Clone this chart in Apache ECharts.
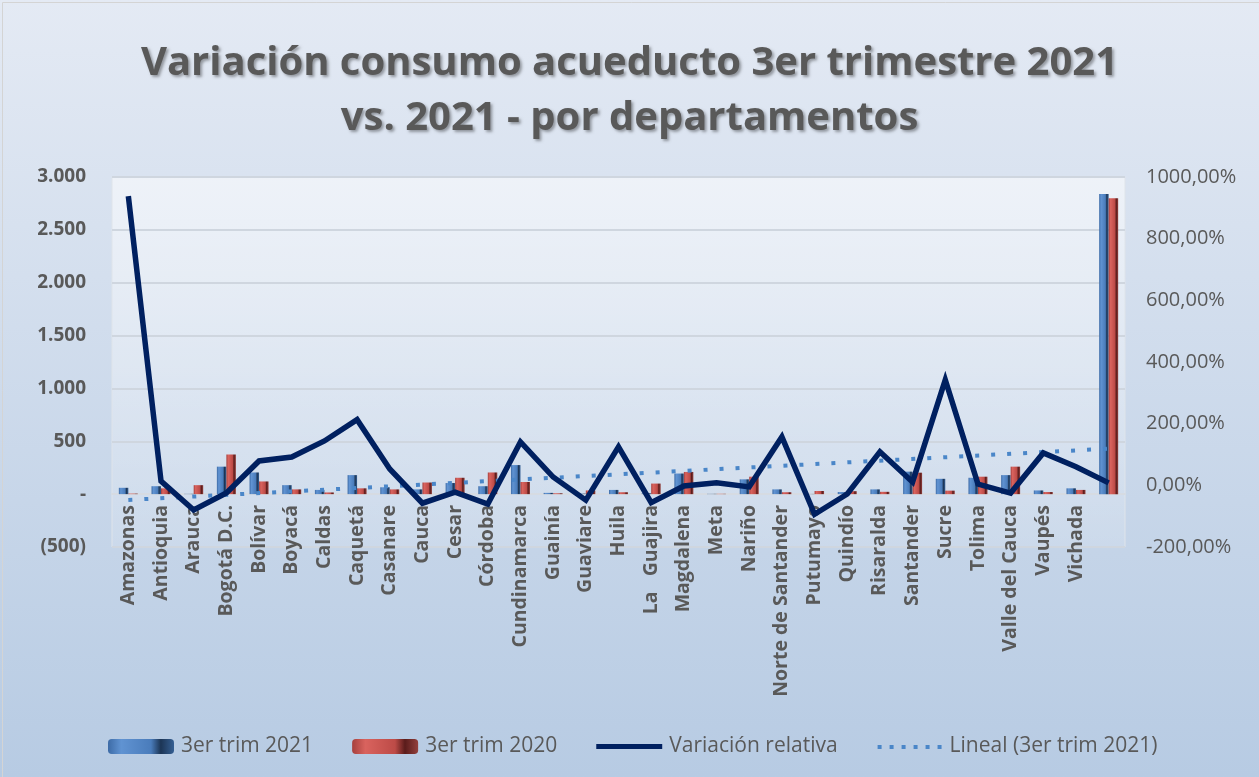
<!DOCTYPE html>
<html>
<head>
<meta charset="utf-8">
<script src="https://cdn.jsdelivr.net/npm/echarts@6/dist/echarts.min.js"></script>
<style>
  html, body { margin: 0; padding: 0; }
  #chart { width: 1259px; height: 777px; }
</style>
</head>
<body>
<div id="chart"></div>
<script>
// categorias (la ultima es el total, su etiqueta no se ve en el original)
const categories = ['Amazonas', 'Antioquia', 'Arauca', 'Bogotá D.C.', 'Bolívar', 'Boyacá', 'Caldas', 'Caquetá',
  'Casanare', 'Cauca', 'Cesar', 'Córdoba', 'Cundinamarca', 'Guainía', 'Guaviare', 'Huila', 'La   Guajira',
  'Magdalena', 'Meta', 'Nariño', 'Norte de Santander', 'Putumayo', 'Quindío', 'Risaralda', 'Santander',
  'Sucre', 'Tolima', 'Valle del Cauca', 'Vaupés', 'Vichada', 'Total'];
const trim2021 = [60, 75, 3, 260, 205, 85, 40, 180, 65, 45, 105, 75, 275, 12, 5, 40, 8, 195, 3, 140, 45, 2, 20, 45, 213, 145, 155, 180, 35, 55, 2840];
const trim2020 = [5, 55, 85, 375, 120, 45, 16, 55, 45, 110, 155, 205, 115, 8, 35, 18, 100, 210, 3, 165, 18, 30, 28, 22, 203, 33, 165, 260, 20, 40, 2800];
const variacion = [938, 14, -80, -25, 79, 92, 144, 213, 53, -58, -22, -61, 141, 27, -48, 125, -56, -2, 8, -5, 157, -94, -28, 109, 11, 342, 4, -25, 105, 60, 8];
const tendenciaInicio = -55;
const tendenciaFin = 430;
const leftTicks = [-500, 0, 500, 1000, 1500, 2000, 2500, 3000];
const leftTickLabels = ['(500)', '-', '500', '1.000', '1.500', '2.000', '2.500', '3.000'];
const rightTicks = [-200, 0, 200, 400, 600, 800, 1000];
const rightTickLabels = ['-200,00%', '0,00%', '200,00%', '400,00%', '600,00%', '800,00%', '1000,00%'];

const chartInstance = echarts.init(document.getElementById('chart'));
const grad = echarts.graphic.LinearGradient;
const textColor = '#595959';
const font = 'Open Sans';

const blueBar = new grad(0, 0, 1, 0, [
  { offset: 0, color: '#3d6ba6' }, { offset: 0.2, color: '#6093d2' },
  { offset: 0.65, color: '#4a7cbb' }, { offset: 0.8, color: '#1c3555' }, { offset: 1, color: '#355f93' }
]);
const redBar = new grad(0, 0, 1, 0, [
  { offset: 0, color: '#a6403d' }, { offset: 0.2, color: '#d9635e' },
  { offset: 0.65, color: '#bd4b47' }, { offset: 0.8, color: '#5a1c1b' }, { offset: 1, color: '#93403d' }
]);
// iconos de leyenda: franjas finas arriba y abajo solo fijan la caja 66x15
const lineIcon = 'path://M0,0 L66,0 L66,0.01 Z M0,5 L66,5 L66,10 L0,10 Z M0,15 L66,15 L66,15.01 Z';
const dotIcon = 'path://M0,0 L66,0 L66,0.01 Z M0,15 L66,15 L66,15.01 Z'
  + ' M1,6 h4 v4 h-4 Z M13,6 h4 v4 h-4 Z M25,6 h4 v4 h-4 Z M37,6 h4 v4 h-4 Z M49,6 h4 v4 h-4 Z M61,6 h4 v4 h-4 Z';

const option = {
  backgroundColor: new grad(0, 0, 0, 1, [
    { offset: 0, color: '#e4eaf4' }, { offset: 1, color: '#b7cbe3' }
  ]),
  animation: false,
  title: {
    text: 'Variación consumo acueducto 3er trimestre 2021\nvs. 2021 - por departamentos',
    left: 'center',
    top: 31,
    textStyle: {
      fontFamily: font, fontWeight: 'bold', fontSize: 40, color: textColor, lineHeight: 55,
      textShadowColor: 'rgba(0,0,0,0.35)', textShadowBlur: 3, textShadowOffsetX: 2, textShadowOffsetY: 2
    }
  },
  graphic: [{
    type: 'rect', left: 0, top: 0, z: 100,
    shape: { width: 1258, height: 776 },
    style: { fill: 'none', stroke: '#d4d4d4', lineWidth: 1 }
  }],
  grid: {
    left: 112, right: 134, top: 177, bottom: 230,
    show: true,
    backgroundColor: new grad(0, 0, 0, 1, [
      { offset: 0, color: 'rgba(255,255,255,0.55)' }, { offset: 1, color: 'rgba(255,255,255,0.12)' }
    ]),
    borderColor: '#dfe4ea', borderWidth: 1
  },
  legend: {
    left: 103, top: 731,
    itemWidth: 66, itemHeight: 15, itemGap: 39,
    textStyle: { fontFamily: font, fontSize: 21, color: textColor, padding: [0, 0, 0, 2] },
    data: [
      { name: '3er trim 2021' },
      { name: '3er trim 2020' },
      { name: 'Variación relativa', icon: lineIcon },
      { name: 'Lineal (3er trim 2021)', icon: dotIcon }
    ]
  },
  xAxis: {
    type: 'category',
    data: categories,
    // el eje cruza en cero (y=0 del eje izquierdo), 53 px sobre el borde inferior
    offset: -53,
    axisLine: { onZero: false, lineStyle: { color: '#d6dbe2', width: 2 } },
    axisTick: { show: false },
    axisLabel: {
      rotate: 90, interval: 0, margin: 11,
      fontFamily: font, fontWeight: 'bold', fontSize: 19.5, color: textColor,
      formatter: v => (v === 'Total' ? '' : v)
    }
  },
  yAxis: [{
    type: 'value', min: -500, max: 3000, interval: 500,
    axisLine: { show: false }, axisTick: { show: false },
    splitLine: { lineStyle: { color: '#cfd6df', width: 2 } },
    axisLabel: {
      margin: 26, fontFamily: font, fontWeight: 'bold', fontSize: 19, color: textColor,
      formatter: v => leftTickLabels[leftTicks.indexOf(v)]
    }
  }, {
    type: 'value', min: -200, max: 1000, interval: 200,
    axisLine: { show: false }, axisTick: { show: false }, splitLine: { show: false },
    axisLabel: {
      margin: 21, fontFamily: font, fontSize: 20, color: textColor,
      formatter: v => rightTickLabels[rightTicks.indexOf(v)]
    }
  }],
  series: [{
    name: '3er trim 2021', type: 'bar', data: trim2021,
    barWidth: 9.5, barGap: '0%',
    itemStyle: { color: blueBar }
  }, {
    name: '3er trim 2020', type: 'bar', data: trim2020,
    barWidth: 9.5,
    itemStyle: { color: redBar }
  }, {
    name: 'Lineal (3er trim 2021)', type: 'line',
    data: [[categories[0], tendenciaInicio], [categories[categories.length - 1], tendenciaFin]],
    symbol: 'none', z: 3,
    lineStyle: { color: '#4a86c8', width: 4, type: [4, 12], cap: 'butt' },
    itemStyle: { color: '#4a86c8' }
  }, {
    name: 'Variación relativa', type: 'line', yAxisIndex: 1, data: variacion,
    symbol: 'none', z: 4,
    lineStyle: { color: '#002060', width: 5.5, join: 'miter' },
    itemStyle: { color: '#002060' }
  }]
};
chartInstance.setOption(option);
</script>
</body>
</html>
